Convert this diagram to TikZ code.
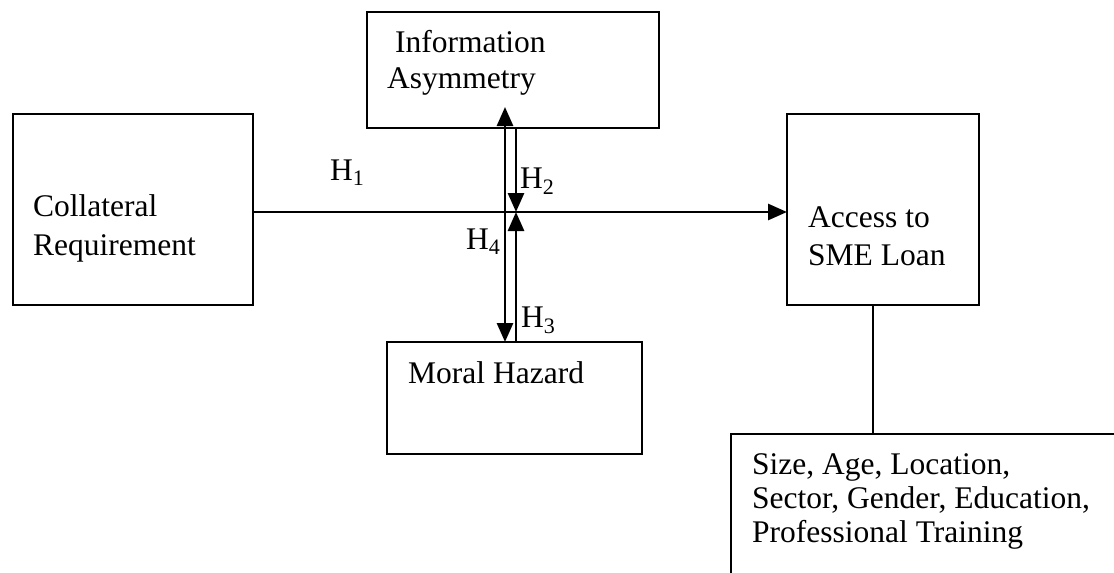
\documentclass[tikz,border=0pt]{standalone}
\usepackage{fontspec}
\setmainfont{Liberation Serif}
\usetikzlibrary{arrows.meta}
\begin{document}
\begin{tikzpicture}[x=1pt,y=-1pt,
  box/.style={draw,line width=2.8pt,inner sep=0pt,outer sep=0pt},
  txt/.style={anchor=base west,inner sep=0pt,font=\fontsize{31.5}{36}\selectfont},
  conn/.style={line width=2.8pt},
  tip/.style={-{Triangle[width=16pt,length=19pt]}}]
\clip (0,0) rectangle (1114,573);
\fill[white] (0,0) rectangle (1114,573);
% boxes
\node[box,minimum width=292pt,minimum height=116pt] (info) at (513,70) {};
\node[box,minimum width=240pt,minimum height=191pt] (coll) at (133,209.5) {};
\node[box,minimum width=192pt,minimum height=191pt] (acc) at (883,209.5) {};
\node[box,minimum width=255pt,minimum height=112pt] (moral) at (514.5,398) {};
\node[box,minimum width=420pt,minimum height=200pt] (ctrl) at (941,534) {};
% texts
\node[txt] (t1) at (395,52) {Information};
\node[txt] (t2) at (387,88) {Asymmetry};
\node[txt] (t3) at (33,216) {Collateral};
\node[txt] (t4) at (33,255) {Requirement};
\node[txt] (t5) at (808,227) {Access to};
\node[txt] (t6) at (808,265) {SME Loan};
\node[txt] (t7) at (408,383) {Moral Hazard};
\node[txt] (t8) at (752,474) {Size, Age, Location,};
\node[txt] (t9) at (752,508) {Sector, Gender, Education,};
\node[txt] (t10) at (752,542) {Professional Training};
% hypothesis labels
\node[txt] (h1) at (330,180) {H\textsubscript{1}};
\node[txt] (h2) at (520,188) {H\textsubscript{2}};
\node[txt] (h3) at (521,327) {H\textsubscript{3}};
\node[txt] (h4) at (466,249) {H\textsubscript{4}};
% connectors
\coordinate (hy) at (0,212);
\coordinate (lx) at (505,0);
\coordinate (rx) at (516,0);
\coordinate (cx) at (873,0);
\coordinate (ltop) at (505,107);
\coordinate (mid) at (516,212);
\draw[conn,tip] (coll.east |- hy) -- (acc.west |- hy);
\draw[conn,{Triangle[width=16pt,length=19pt]}-{Triangle[width=16pt,length=19pt]}] (ltop) -- (moral.north -| lx);
\draw[conn,tip] (info.south -| rx) -- (mid);
\draw[conn,tip] (moral.north -| rx) -- (mid);
\draw[conn] (acc.south -| cx) -- (ctrl.north -| cx);
\end{tikzpicture}
\end{document}
